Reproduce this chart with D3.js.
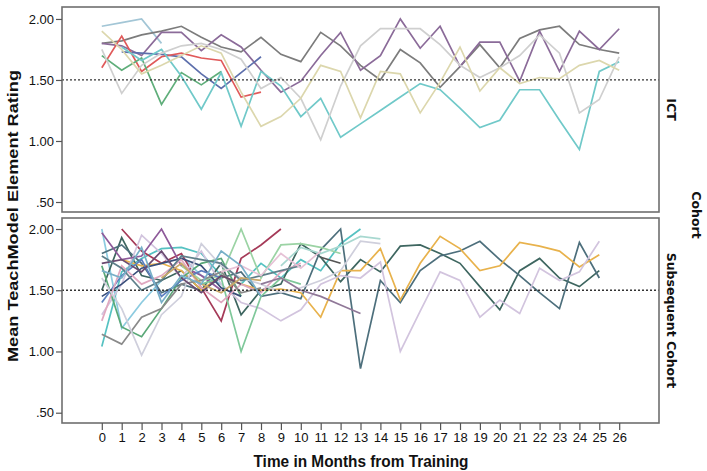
<!DOCTYPE html>
<html><head><meta charset="utf-8">
<script src="https://cdn.jsdelivr.net/npm/d3@7"></script>
<style>body{margin:0;background:#fff}svg{display:block}</style>
</head><body><svg id="c" width="707" height="471"></svg>
<script>
// ---- data ----
const months = d3.range(0, 27);
const yTicks = [0.5, 1.0, 1.5, 2.0];
const refValue = 1.5;
const panelLabels = ["ICT", "Subsequent Cohort"];

// ICT cohort: start month + monthly mean ratings
const ictStarts = [0, 0, 0, 1, 0, 0, 1, 0, 0];
const ictColors = ["#a3c6d6", "#7c7c7c", "#8b6b99", "#5d6fac", "#e05a5a", "#5fae7a", "#70c9c9", "#cfcfcf", "#dcd7ad"];
const ictValues = [
  [1.94, 1.97, 2.00, 1.80],
  [1.80, 1.82, 1.87, 1.90, 1.94, 1.85, 1.77, 1.73, 1.85, 1.71, 1.65, 1.89, 1.78, 1.62, 1.50, 1.75, 1.64, 1.44, 1.61, 1.79, 1.60, 1.84, 1.91, 1.94, 1.79, 1.75, 1.72],
  [1.80, 1.78, 1.70, 1.89, 1.89, 1.74, 1.87, 1.77, 1.58, 1.40, 1.49, 1.70, 1.89, 1.58, 1.70, 2.00, 1.76, 1.94, 1.61, 1.81, 1.81, 1.49, 1.90, 1.57, 1.90, 1.75, 1.92],
  [1.73, 1.72, 1.71, 1.69, 1.55, 1.43, 1.56, 1.69],
  [1.60, 1.86, 1.57, 1.69, 1.72, 1.68, 1.66, 1.36, 1.40],
  [1.70, 1.58, 1.68, 1.30, 1.56, 1.46, 1.57],
  [1.77, 1.66, 1.75, 1.53, 1.26, 1.56, 1.12, 1.57, 1.45, 1.20, 1.35, 1.03, 1.14, 1.25, 1.36, 1.47, 1.42, 1.27, 1.11, 1.17, 1.42, 1.42, 1.17, 0.93, 1.57, 1.65],
  [1.75, 1.39, 1.62, 1.72, 1.78, 1.80, 1.75, 1.67, 1.43, 1.52, 1.35, 1.01, 1.45, 1.78, 1.92, 1.92, 1.92, 1.79, 1.62, 1.52, 1.60, 1.70, 1.87, 1.72, 1.23, 1.34, 1.69],
  [1.90, 1.75, 1.55, 1.62, 1.70, 1.78, 1.72, 1.40, 1.12, 1.20, 1.35, 1.62, 1.57, 1.19, 1.57, 1.55, 1.23, 1.48, 1.77, 1.41, 1.60, 1.47, 1.52, 1.51, 1.62, 1.66, 1.58]
];

// Subsequent cohort
const subStarts = [0, 0, 1, 0, 0, 1, 0, 0, 0, 4, 5, 0, 0, 0, 0, 0, 0, 0, 8, 11, 9, 3, 6, 0];
const subColors = ["#8ccbe0", "#56c2c2", "#a53a58", "#3e6660", "#4d6f7c", "#e8b24c", "#d2c4de", "#8e5a9a", "#5aa878", "#9bd3a4", "#7fc89a", "#3a4f7a", "#5c80c0", "#e0a8c0", "#8a8a8a", "#cfcfdc", "#6a4a70", "#5f7f8a", "#907898", "#545454", "#a8d8d0", "#c9a86a", "#e6c2d6", "#78b0c8"];
const subValues = [
  [2.00, 1.19, 1.40, 1.58, 1.78, 1.62, 1.55],
  [1.04, 1.65, 1.76, 1.84, 1.85, 1.80, 1.62, 1.55, 1.72, 1.60, 1.75, 1.66, 1.88, 2.00],
  [2.00, 1.82, 1.72, 1.80, 1.52, 1.25, 1.76, 1.87, 2.00],
  [1.50, 1.93, 1.62, 1.58, 1.66, 1.50, 1.72, 1.30, 1.50, 1.55, 1.88, 1.77, 1.57, 1.75, 1.65, 1.86, 1.87, 1.80, 1.72, 1.53, 1.34, 1.66, 1.76, 1.60, 1.53, 1.66],
  [1.80, 1.87, 1.72, 1.48, 1.55, 1.50, 1.60, 1.65, 1.45, 1.48, 1.43, 1.83, 2.00, 0.86, 1.58, 1.40, 1.66, 1.78, 1.82, 1.90, 1.75, 1.62, 1.48, 1.35, 1.89, 1.60],
  [1.75, 1.70, 1.72, 1.66, 1.50, 1.62, 1.55, 1.50, 1.51, 1.48, 1.28, 1.66, 1.66, 1.84, 1.42, 1.72, 1.94, 1.84, 1.66, 1.70, 1.89, 1.86, 1.82, 1.69, 1.79],
  [1.30, 1.55, 1.95, 1.80, 1.60, 1.82, 1.55, 1.40, 1.35, 1.25, 1.34, 1.55, 1.62, 1.60, 1.73, 1.00, 1.33, 1.65, 1.58, 1.28, 1.42, 1.31, 1.68, 1.58, 1.65, 1.90],
  [1.97, 1.75, 1.78, 2.00, 1.70, 1.62, 1.50],
  [1.70, 1.20, 1.12, 1.35, 1.60, 1.72, 1.76, 1.45],
  [1.70, 1.58, 1.62, 2.00, 1.60, 1.87, 1.88, 1.85, 1.80],
  [1.55, 1.60, 1.00, 1.45, 1.60, 1.55],
  [1.45, 1.55, 1.68, 1.72, 1.76, 1.70, 1.52, 1.45],
  [1.40, 1.62, 1.75, 1.45, 1.58, 1.66, 1.60],
  [1.25, 1.70, 1.55, 1.62, 1.75, 1.52, 1.40, 1.55, 1.48, 1.65, 1.72],
  [1.14, 1.06, 1.28, 1.35, 1.55, 1.58, 1.65, 1.48, 1.52],
  [1.60, 1.35, 0.97, 1.30, 1.45, 1.88, 1.70, 1.60, 1.55, 1.48, 1.52, 1.58, 1.66, 1.90, 1.88],
  [1.72, 1.75, 1.65, 1.82, 1.60, 1.48, 1.62, 1.55],
  [1.78, 1.68, 1.50, 1.58, 1.78, 1.75, 1.72, 1.58, 1.62, 1.66, 1.70],
  [1.55, 1.60, 1.50, 1.45, 1.38, 1.31],
  [1.77, 1.72],
  [1.70, 1.85, 1.80, 1.86, 1.94, 1.92],
  [1.60, 1.72, 1.55, 1.48, 1.60, 1.58],
  [1.65, 1.70, 1.62, 1.80, 1.68, 1.82],
  [1.66, 1.60, 1.85, 1.40, 1.62, 1.55, 1.82, 1.70, 1.45]
];

// ---- drawing ----
const svg = d3.select("#c");
const x = d3.scaleLinear().domain([-2, 28]).range([62, 659]);
const panels = [
  {top: 7, bottom: 212, lo: 0.418, hi: 2.098, starts: ictStarts, vals: ictValues, cols: ictColors, label: panelLabels[0]},
  {top: 218, bottom: 423, lo: 0.416, hi: 2.09, starts: subStarts, vals: subValues, cols: subColors, label: panelLabels[1]}
];
const tickFont = "'Liberation Sans', Arial, sans-serif";

panels.forEach((p, pi) => {
  const y = d3.scaleLinear().domain([p.lo, p.hi]).range([p.bottom, p.top]);
  const g = svg.append("g");
  const line = d3.line().x(d => x(d.m)).y(d => y(d.v));
  p.vals.forEach((arr, i) => {
    const pts = arr.map((v, k) => ({m: p.starts[i] + k, v}));
    g.append("path").attr("d", line(pts)).attr("fill", "none")
      .attr("stroke", p.cols[i]).attr("stroke-width", 1.7)
      .attr("stroke-linejoin", "miter");
  });
  g.append("line").attr("x1", x(-2)).attr("x2", x(28))
    .attr("y1", y(refValue)).attr("y2", y(refValue))
    .attr("stroke", "#333").attr("stroke-width", 1.3).attr("stroke-dasharray", "2,2");
  g.append("rect").attr("x", 62).attr("y", p.top).attr("width", 597).attr("height", p.bottom - p.top)
    .attr("fill", "none").attr("stroke", "#6f6f6f").attr("stroke-width", 1.6);
  const ax = d3.axisLeft(y).tickValues(yTicks).tickSize(6).tickPadding(2)
    .tickFormat(d => d3.format(".2f")(d).replace(/^0/, ""));
  const ag = g.append("g").attr("transform", "translate(62,0)").call(ax);
  ag.select(".domain").remove();
  ag.selectAll("line").attr("stroke", "#555").attr("stroke-width", 1.2);
  ag.selectAll("text").attr("font-family", tickFont).attr("font-size", 13).attr("fill", "#111");
  svg.append("text").attr("transform", `translate(667,${(p.top + p.bottom) / 2}) rotate(90)`)
    .attr("text-anchor", "middle").attr("font-family", "'DejaVu Sans', sans-serif")
    .attr("font-weight", "bold").attr("font-size", 12.5).attr("fill", "#111").text(p.label);
});

const xa = d3.axisBottom(x).tickValues(months).tickSize(7).tickPadding(3);
const xg = svg.append("g").attr("transform", "translate(0,423)").call(xa);
xg.select(".domain").remove();
xg.selectAll("line").attr("stroke", "#555").attr("stroke-width", 1.2);
xg.selectAll("text").attr("font-family", "'Liberation Sans Narrow', 'Arial Narrow', 'Liberation Sans', sans-serif")
  .attr("font-size", 13).attr("fill", "#111");

svg.append("text").attr("x", 361).attr("y", 467).attr("text-anchor", "middle")
  .attr("font-family", "'Liberation Sans Narrow', 'Arial Narrow', 'Liberation Sans', sans-serif")
  .attr("font-weight", "bold").attr("font-size", 16).attr("fill", "#111")
  .attr("textLength", 215).attr("lengthAdjust", "spacingAndGlyphs")
  .text("Time in Months from Training");
svg.append("text").attr("transform", "translate(18,216) rotate(-90)").attr("text-anchor", "middle")
  .attr("font-family", "'Liberation Sans', Arial, sans-serif")
  .attr("font-weight", "bold").attr("font-size", 14).attr("fill", "#111")
  .attr("textLength", 292).attr("lengthAdjust", "spacingAndGlyphs")
  .text("Mean TeachModel Element Rating");
svg.append("text").attr("transform", "translate(692,215) rotate(90)").attr("text-anchor", "middle")
  .attr("font-family", "'DejaVu Sans', sans-serif")
  .attr("font-weight", "bold").attr("font-size", 12.5).attr("fill", "#111").text("Cohort");
</script></body></html>
